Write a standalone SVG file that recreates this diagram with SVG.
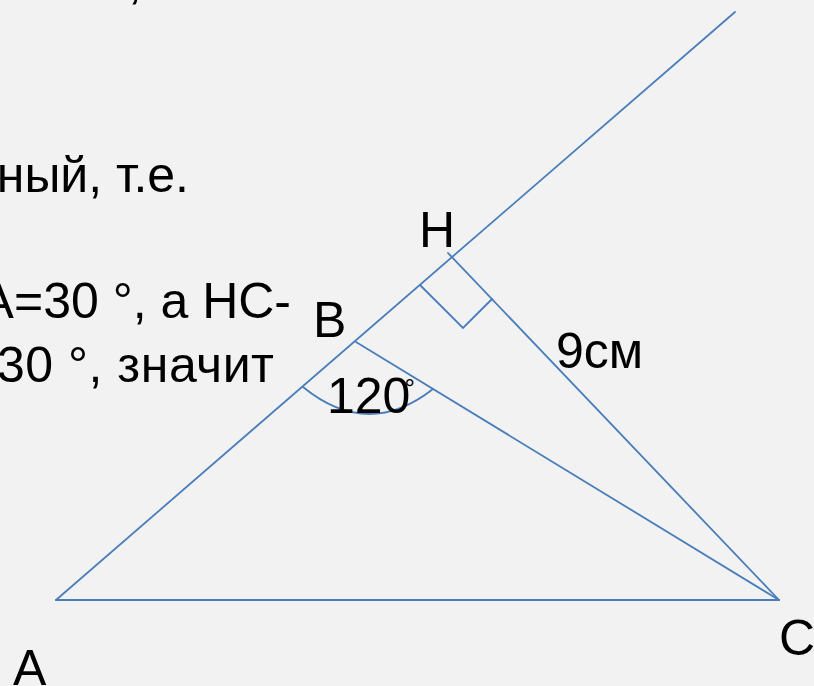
<svg xmlns="http://www.w3.org/2000/svg" width="814" height="686" viewBox="0 0 814 686">
<style>
.t{font-family:"Liberation Sans",Arial,sans-serif;font-size:50px;fill:#000}
.ln{fill:none;stroke:#4a7ebb;stroke-width:1.8;stroke-linecap:round;stroke-linejoin:miter}
</style>
<rect width="814" height="686" fill="#f2f2f2"/>
<g id="text-block">
<text class="t" x="128" y="-2">,</text>
<text class="t" x="189" y="192" text-anchor="end">ный, т.е.</text>
<text class="t" x="291" y="318" text-anchor="end">А=30 °, а НС-</text>
<text class="t" x="274" y="382" text-anchor="end" textLength="277" lengthAdjust="spacing">30 °, значит</text>
</g>
<g id="connectors">
<line class="ln" x1="56" y1="600" x2="735" y2="12"/>
<line class="ln" x1="56" y1="600" x2="779" y2="600"/>
<line class="ln" x1="448" y1="253" x2="779" y2="600"/>
<line class="ln" x1="356" y1="342" x2="779" y2="600"/>
<polyline class="ln" points="420,285 463,328 492,299"/>
<path class="ln" d="M303,387 Q368,440 433,389"/>
</g>
<g id="node-A"><text class="t" x="13" y="685">A</text></g>
<g id="node-B"><text class="t" x="313" y="337">B</text></g>
<g id="node-C"><text class="t" x="779" y="655">C</text></g>
<g id="node-H"><text class="t" x="419" y="247">H</text></g>
<g id="label-9cm"><text class="t" x="556" y="368">9см</text></g>
<g id="label-120"><text class="t" x="327" y="413">120<tspan dx="-6" dy="-16" style="font-size:26px">°</tspan></text></g>
</svg>
